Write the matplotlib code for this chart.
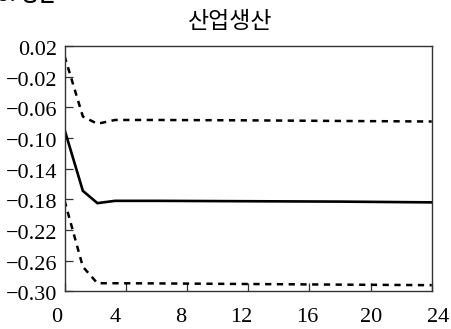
import matplotlib
matplotlib.use("Agg")
import matplotlib.pyplot as plt
from matplotlib.transforms import ScaledTranslation

# Impulse response of industrial production with confidence bands
horizon = [0, 1.2, 2.15, 3.3, 6, 12, 18, 24]
response = [-0.089, -0.169, -0.185, -0.182, -0.182, -0.1825, -0.183, -0.184]
upper_band = [0.007, -0.072, -0.0815, -0.0765, -0.0765, -0.077, -0.0778, -0.0785]
lower_band = [-0.1815, -0.268, -0.2895, -0.2895, -0.2897, -0.2905, -0.2913, -0.292]

x_ticks = [0, 4, 8, 12, 16, 20, 24]
x_tick_labels = ["0", "4", "8", "12", "16", "20", "24"]
y_ticks = [0.02, -0.02, -0.06, -0.10, -0.14, -0.18, -0.22, -0.26, -0.30]
y_tick_labels = ["0.02", "−0.02", "−0.06", "−0.10", "−0.14", "−0.18",
                 "−0.22", "−0.26", "−0.30"]
title = "산업생산"
section_heading = "3. 생산"

serif = ["Liberation Serif", "DejaVu Serif"]
korean = ["Noto Sans CJK KR", "DejaVu Sans"]

fig = plt.figure(figsize=(4.52, 3.29), dpi=100)
ax = fig.add_axes([0.1427, 0.1146, 0.8125, 0.7456])

ax.plot(horizon, response, color="black", lw=1.9, solid_joinstyle="miter")
for band in (upper_band, lower_band):
    ax.plot(horizon, band, color="black", lw=1.8, linestyle=(0, (2.5, 2.2)),
            dash_capstyle="butt")

ax.set_xlim(0, 24)
ax.set_ylim(-0.30, 0.02)

ax.set_xticks(x_ticks, x_tick_labels, fontfamily=serif, fontsize=16)
ax.set_yticks(y_ticks, y_tick_labels, fontfamily=serif, fontsize=16)
ax.tick_params(axis="both", direction="in", length=6, width=0.9,
               color="#333333", top=False, right=False)
ax.tick_params(axis="x", pad=12)
ax.tick_params(axis="y", pad=5)

# fine placement of the tick labels
x_shift_px = [-7.8, -10.8, -6.4, -6.8, -2.1, 0.9, 6.6]
for lab, dx in zip(ax.get_xticklabels(), x_shift_px):
    lab.set_transform(lab.get_transform() +
                      ScaledTranslation(dx / 100, 0, fig.dpi_scale_trans))
for lab in ax.get_yticklabels():
    lab.set_transform(lab.get_transform() +
                      ScaledTranslation(0, -2 / 100, fig.dpi_scale_trans))

for sp in ax.spines.values():
    sp.set_linewidth(1.0)
    sp.set_color("#333333")

fig.text(230 / 452, 1 - 21 / 329, title, fontfamily=korean, fontsize=16.5,
         ha="center", va="center")
fig.text(-0.005, 1 - 1 / 329, section_heading, fontfamily=korean,
         fontsize=14, ha="left", va="baseline", fontweight="bold")

fig.savefig("out.png", dpi=100)
